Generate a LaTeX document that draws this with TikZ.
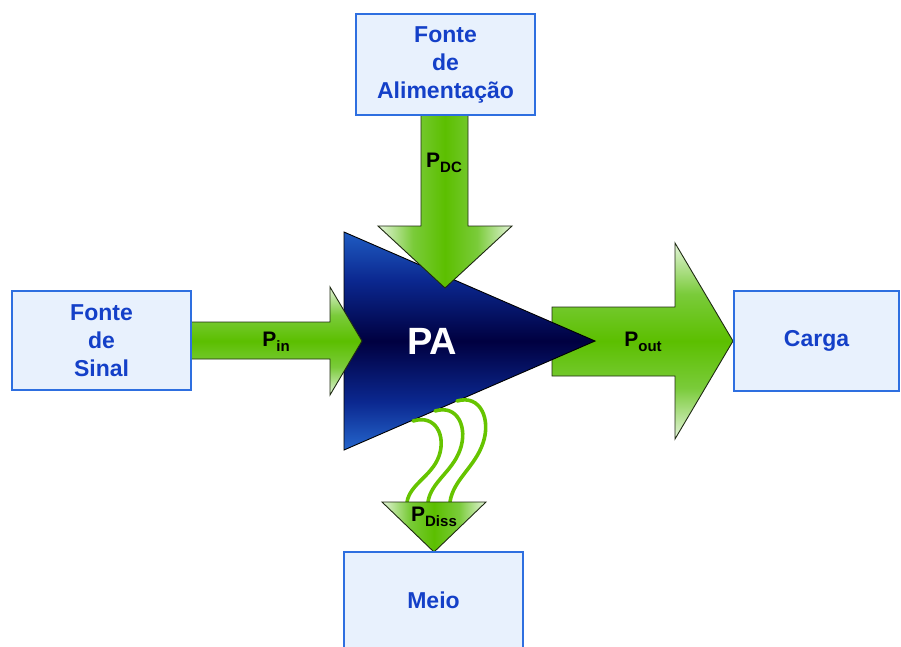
\documentclass[tikz,border=0pt]{standalone}
\usepackage{fontspec}
\setmainfont{Liberation Sans}
\usetikzlibrary{calc}
\pgfdeclarelayer{background}
\pgfsetlayers{background,main}

\definecolor{boxfill}{HTML}{E8F1FD}
\definecolor{boxline}{HTML}{2E6FE0}
\definecolor{boxtext}{HTML}{1440C8}
\definecolor{pgreen}{HTML}{5CBF00}
\definecolor{gmid}{HTML}{7ACB3A}
\definecolor{plight}{HTML}{E4F4DA}
\definecolor{wire}{HTML}{66C400}
\definecolor{outl}{HTML}{1E2A12}
\definecolor{patop}{HTML}{1F5CC2}
\definecolor{pabot}{HTML}{2566CC}
\definecolor{pamid}{HTML}{0B2890}
\definecolor{pacore}{HTML}{000040}

% green band: pale at both edges, saturated along the axis of the arrow
\pgfdeclareverticalshading{greenband}{100bp}{color(0bp)=(plight); color(25bp)=(plight); color(38bp)=(gmid); color(50bp)=(pgreen); color(62bp)=(gmid); color(75bp)=(plight); color(100bp)=(plight)}
% amplifier body: blue rims, dark navy core
\pgfdeclareverticalshading{pashade}{100bp}{color(0bp)=(pabot); color(25bp)=(pabot); color(36bp)=(pamid); color(50bp)=(pacore); color(64bp)=(pamid); color(75bp)=(patop); color(100bp)=(patop)}

\newcommand\powlabel[1]{P\raisebox{-5pt}{\fontsize{15}{15}\selectfont #1}}

\begin{document}
\begin{tikzpicture}[x=1pt,y=-1pt,
  blockbox/.style={draw=boxline, line width=1.4pt, fill=boxfill, text=boxtext,
    font=\bfseries\fontsize{23}{28}\selectfont, align=center, inner sep=0pt},
  arrowbody/.style={draw=outl, line width=0.9pt, line join=miter},
  plabel/.style={font=\bfseries\fontsize{21}{21}\selectfont, text=black, inner sep=0pt},
  heatwire/.style={draw=wire, line width=3.6pt, line cap=round}]
\useasboundingbox (0,0) rectangle (901,646);

% blocks
\node[blockbox, minimum width=179pt, minimum height=101pt] (supply) at (445.5,64.5) {Fonte\\de\\Alimentação};
\node[blockbox, minimum width=179pt, minimum height=99pt] (signal) at (101.5,340.5) {Fonte\\de\\Sinal};
\node[blockbox, minimum width=165pt, minimum height=100pt] (load) at (816.5,341) {Carga};
\node[blockbox, minimum width=179pt, minimum height=96pt] (env) at (433.5,600) {Meio};

% power labels and amplifier label
\node[plabel] (pdc) at (444,163) {\powlabel{DC}};
\node[plabel] (pin) at (276,342) {\powlabel{in}};
\node[plabel] (pout) at (643,342) {\powlabel{out}};
\node[plabel] (pdiss) at (434,517) {\powlabel{Diss}};
\node[font=\bfseries\fontsize{38}{38}\selectfont, text=white, inner sep=0pt] (pa) at (432,341) {PA};

% wire end points
\coordinate (w1a) at (413,421); \coordinate (w1b) at (407,502);
\coordinate (w2a) at (435,411); \coordinate (w2b) at (428,502);
\coordinate (w3a) at (457,401); \coordinate (w3b) at (450,502);

\begin{pgfonlayer}{background}
  % output power arrow, under the amplifier tip
  \path[arrowbody, shading=greenband]
    (552,307) -- (675,307) -- (675,243) -- (733,341) -- (675,439) -- (675,376) -- (552,376) -- cycle;
  % amplifier triangle
  \path[draw=black, line width=0.9pt, shading=pashade]
    (344,232) -- (595,341) -- (344,450) -- cycle;
  % input power arrow
  \path[arrowbody, shading=greenband]
    (191,322) -- (330,322) -- (330,287) -- (362,341) -- (330,395) -- (330,359) -- (191,359);
  % supply power arrow
  \path[arrowbody, shading=greenband, shading angle=90]
    (421,115) -- (421,226) -- (378,226) -- (445,288) -- (512,226) -- (468,226) -- (468,115);
  % dissipated heat
  \draw[heatwire] (w1a) .. controls (436,414) and (446,436) .. (439,456)
                        .. controls (432,476) and (410,484) .. (w1b);
  \draw[heatwire] (w2a) .. controls (458,404) and (468,428) .. (460,450)
                        .. controls (452,472) and (431,482) .. (w2b);
  \draw[heatwire] (w3a) .. controls (481,394) and (491,420) .. (483,443)
                        .. controls (475,467) and (453,480) .. (w3b);
  \path[arrowbody, shading=greenband, shading angle=90]
    (382,502) -- (486,502) -- (434,552) -- cycle;
\end{pgfonlayer}
\end{tikzpicture}
\end{document}
